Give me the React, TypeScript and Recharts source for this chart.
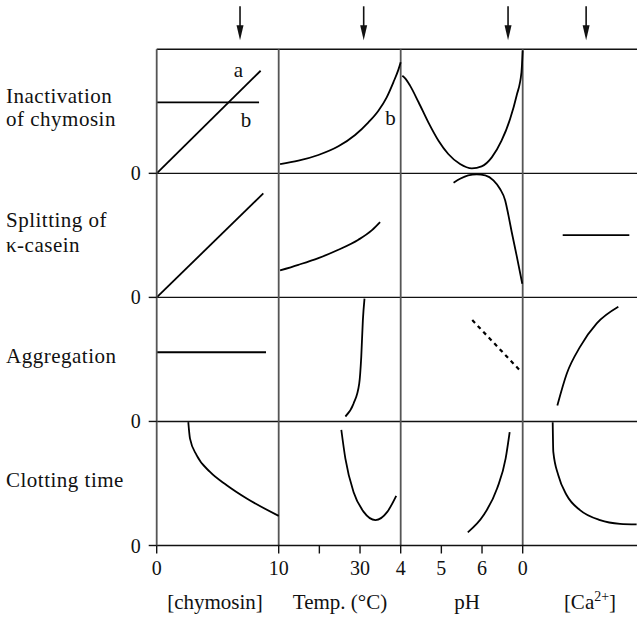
import React from "react";
import {
  ComposedChart,
  Line,
  XAxis,
  YAxis,
  ReferenceLine,
  ReferenceDot,
  Customized,
} from "recharts";

type Pt = [number, number];

// each column has its own x units; y is 0..1 inside a row
const colRanges: Pt[] = [[0, 10], [10, 40], [4, 7], [0, 1]];

const rowLabels = [["Inactivation", "of chymosin"], ["Splitting of", "κ-casein"], ["Aggregation"], ["Clotting time"]];
const axisTitles = ["[chymosin]", "Temp. (°C)", "pH", "[Ca", "2+", "]"];

const tickCols = [0, 0, 1, 1, 2, 2, 2, 3];
const tickVals = [0, 10, 20, 30, 4, 5, 6, 0];
const tickLabels = ["0", "10", "", "30", "4", "5", "6", "0"];

// optimum (arrows on top), one per column
const optimum = [6.83, 30.9, 6.64, 0.52];

// row 0 - inactivation of chymosin
const inactChymA: Pt[] = [[0, 0], [8.52, 0.827]];
const inactChymB: Pt[] = [[0, 0.572], [8.39, 0.572]];
const inactTemp: Pt[] = [[10.34, 0.075], [14.84, 0.102], [19.76, 0.148], [24.68, 0.218], [28.79, 0.309], [32.06, 0.411], [34.52, 0.505], [36.56, 0.613], [38.2, 0.734], [39.44, 0.836], [40, 0.895]];
const inactPH: Pt[] = [[4.04, 0.787], [4.11, 0.766], [4.23, 0.707], [4.44, 0.573], [4.68, 0.411], [4.93, 0.263], [5.17, 0.156], [5.46, 0.075], [5.75, 0.04], [5.99, 0.056], [6.24, 0.129], [6.48, 0.263], [6.69, 0.438], [6.85, 0.626], [6.97, 0.815], [7.0, 0.99]];

// row 1 - splitting of kappa-casein
const splitChym: Pt[] = [[0, 0], [8.74, 0.839]];
const splitTemp: Pt[] = [[10.34, 0.218], [14.84, 0.263], [19.76, 0.317], [24.68, 0.384], [29.6, 0.465], [32.87, 0.54], [34.93, 0.607]];
const splitPH: Pt[] = [[5.3, 0.924], [5.46, 0.956], [5.66, 0.984], [5.87, 0.992], [6.08, 0.984], [6.28, 0.944], [6.44, 0.876], [6.57, 0.782], [6.65, 0.661], [6.73, 0.527], [6.85, 0.339], [6.99, 0.11]];
const splitCa: Pt[] = [[0.328, 0.502], [0.874, 0.502]];

// row 2 - aggregation
const aggChym: Pt[] = [[0, 0.558], [8.96, 0.558]];
const aggTemp: Pt[] = [[26.4, 0.04], [28.4, 0.143], [29.8, 0.305], [30.3, 0.52], [30.7, 0.817], [31.1, 0.99]];
const aggPH: Pt[] = [[5.76, 0.817], [6.93, 0.412]];
const aggCa: Pt[] = [[0.284, 0.129], [0.361, 0.385], [0.47, 0.601], [0.607, 0.79], [0.784, 0.924]];

// row 3 - clotting time
const clotChym: Pt[] = [[2.59, 0.994], [2.73, 0.861], [3.28, 0.727], [4.37, 0.593], [5.74, 0.486], [7.38, 0.379], [10, 0.239]];
const clotTemp: Pt[] = [[25.4, 0.932], [26.4, 0.7], [28.4, 0.432], [30.9, 0.271], [33.8, 0.205], [36.7, 0.271], [38.9, 0.4]];
const clotPH: Pt[] = [[5.65, 0.106], [6.04, 0.245], [6.37, 0.459], [6.58, 0.7], [6.68, 0.914]];
const clotCa: Pt[] = [[0.246, 0.994], [0.251, 0.754], [0.292, 0.566], [0.361, 0.405], [0.47, 0.285], [0.634, 0.205], [0.798, 0.175], [0.934, 0.17]];

const toX = (col: number, v: number) => col + (v - colRanges[col][0]) / (colRanges[col][1] - colRanges[col][0]);
const toPts = (row: number, col: number, pts: Pt[]) => pts.map(([v, y]) => ({ x: toX(col, v), y: 3 - row + y }));

const curves = [
  { row: 0, col: 0, pts: inactChymA, type: "linear" },
  { row: 0, col: 0, pts: inactChymB, type: "linear" },
  { row: 0, col: 1, pts: inactTemp },
  { row: 0, col: 2, pts: inactPH },
  { row: 1, col: 0, pts: splitChym, type: "linear" },
  { row: 1, col: 1, pts: splitTemp },
  { row: 1, col: 2, pts: splitPH },
  { row: 1, col: 3, pts: splitCa, type: "linear" },
  { row: 2, col: 0, pts: aggChym, type: "linear" },
  { row: 2, col: 1, pts: aggTemp },
  { row: 2, col: 2, pts: aggPH, type: "linear", dashed: true },
  { row: 2, col: 3, pts: aggCa },
  { row: 3, col: 0, pts: clotChym },
  { row: 3, col: 1, pts: clotTemp },
  { row: 3, col: 2, pts: clotPH },
  { row: 3, col: 3, pts: clotCa },
];

const xTicks = tickVals.map((v, i) => toX(tickCols[i], v));

// a single family name: fallback lists were not resolved here
const FONT = "Liberation Serif";
const INK = "#111";
const GRID = "#555";

const Arrow = (p: any) => {
  const { cx, cy } = p;
  return (
    <g>
      <line x1={cx} y1={cy - 43} x2={cx} y2={cy - 20} stroke={INK} strokeWidth={1.6} />
      <path d={`M${cx - 3.5},${cy - 24} L${cx + 3.5},${cy - 24} L${cx},${cy - 9} Z`} fill={INK} />
    </g>
  );
};

const letter = (t: string) => (p: any) => (
  <text x={p.cx} y={p.cy} dy={7} textAnchor="middle" fontSize={21} fontFamily={FONT} fill={INK} letterSpacing={0}>
    {t}
  </text>
);

const XTick = ({ x, y, index }: any) => (
  <text x={x} y={y} dy={14} textAnchor="middle" fontSize={20} fontFamily={FONT} fill={INK} letterSpacing={0}>
    {tickLabels[index]}
  </text>
);

const YTick = ({ x, y }: any) => (
  <text x={x} y={y} dy={7} textAnchor="end" fontSize={20} fontFamily={FONT} fill={INK} letterSpacing={0}>
    0
  </text>
);

const Label = ({ x, y, t, anchor = "start", sp = 0.5 }: any) => (
  <text x={x} y={y} textAnchor={anchor} fontFamily={FONT} fontSize={21} fill={INK} letterSpacing={sp}>
    {t}
  </text>
);

const Texts = () => (
  <g>
    <Label x={6} y={103} t={rowLabels[0][0]} />
    <Label x={6} y={126} t={rowLabels[0][1]} />
    <Label x={6} y={227} t={rowLabels[1][0]} />
    <Label x={6} y={251.5} t={rowLabels[1][1]} />
    <Label x={6} y={363} t={rowLabels[2][0]} />
    <Label x={6} y={487} t={rowLabels[3][0]} />
    <Label x={215} y={609} t={axisTitles[0]} anchor="middle" sp={0} />
    <Label x={340} y={609} t={axisTitles[1]} anchor="middle" sp={0} />
    <Label x={467} y={609} t={axisTitles[2]} anchor="middle" sp={0} />
    <text x={590} y={609} textAnchor="middle" fontFamily={FONT} fontSize={21} fill={INK} letterSpacing={0}>
      <tspan>{axisTitles[3]}</tspan>
      <tspan dy={-8} fontSize={14}>{axisTitles[4]}</tspan>
      <tspan dy={8}>{axisTitles[5]}</tspan>
    </text>
  </g>
);

export default function App() {
  return (
    <div style={{ position: "absolute", left: 0, top: 0, width: 637, height: 618, background: "#fff" }}>
      <ComposedChart width={637} height={618} margin={{ top: 49.3, right: 0, left: 116.7, bottom: 42.5 }}>
        <XAxis
          type="number"
          dataKey="x"
          domain={[0, 3.937]}
          allowDataOverflow
          ticks={xTicks}
          interval={0}
          tickSize={8}
          tickMargin={7}
          height={30}
          axisLine={{ stroke: INK, strokeWidth: 1.4 }}
          tickLine={{ stroke: INK, strokeWidth: 1.4 }}
          tick={<XTick />}
        />
        <YAxis
          type="number"
          domain={[0, 4]}
          ticks={[0, 1, 2, 3]}
          interval={0}
          tickSize={8}
          tickMargin={8}
          width={40}
          axisLine={{ stroke: GRID, strokeWidth: 1.8 }}
          tickLine={{ stroke: INK, strokeWidth: 1.4 }}
          tick={<YTick />}
        />
        {[1, 2, 3, 4].map((y) => (
          <ReferenceLine key={`h${y}`} y={y} stroke={INK} strokeWidth={1.4} />
        ))}
        {[1, 2, 3].map((x) => (
          <ReferenceLine key={`v${x}`} x={x} stroke={GRID} strokeWidth={1.8} />
        ))}
        {curves.map((c, i) => (
          <Line
            key={i}
            data={toPts(c.row, c.col, c.pts)}
            dataKey="y"
            type={(c.type as any) || "monotone"}
            stroke="#000"
            strokeWidth={c.dashed ? 2.2 : 1.8}
            strokeDasharray={c.dashed ? "4 4" : undefined}
            dot={false}
            activeDot={false}
            isAnimationActive={false}
          />
        ))}
        {optimum.map((v, i) => (
          <ReferenceDot key={`o${i}`} x={toX(i, v)} y={4} r={0} shape={Arrow} ifOverflow="visible" />
        ))}
        <ReferenceDot x={toX(0, 6.7)} y={3.833} r={0} shape={letter("a")} />
        <ReferenceDot x={toX(0, 7.32)} y={3.43} r={0} shape={letter("b")} />
        <ReferenceDot x={toX(1, 37.47)} y={3.445} r={0} shape={letter("b")} />
        <Customized component={Texts} />
      </ComposedChart>
    </div>
  );
}
